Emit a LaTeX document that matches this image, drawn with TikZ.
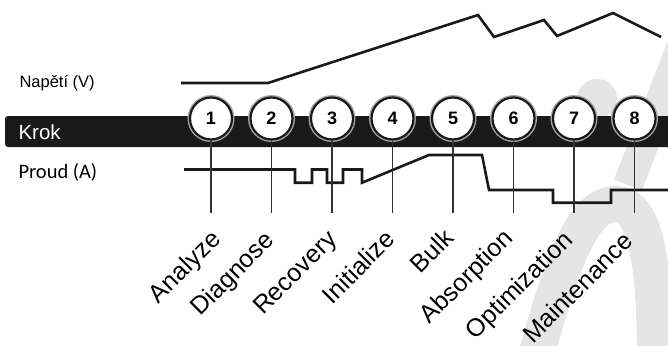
\documentclass[tikz,border=0pt]{standalone}
\usepackage{fontspec}
\setmainfont{Liberation Sans}
\newfontfamily\calibri{Carlito}
\usetikzlibrary{positioning}

\tikzset{
  wm/.style={black!10},
  signal/.style={line width=2.6pt, black!90, line join=miter},
  stem/.style={line width=1.6pt, black!80},
  stepnum/.style={circle, draw=black!90, line width=2.2pt, fill=white, minimum size=42pt,
    inner sep=0pt, font=\fontsize{18}{18}\selectfont\bfseries},
  phase/.style={rotate=45, anchor=base east, inner sep=0pt, font=\fontsize{25}{25}\selectfont}
}

\begin{document}
\begin{tikzpicture}[x=1pt, y=-1pt]
        \useasboundingbox (0,0) rectangle (668,345);

        % watermark behind everything
        \fill[wm] (597,99) circle (20);
        \draw[wm, line width=30] (690,25) -- (628,185);
        \draw[wm, line width=36] (535,360) .. controls (565,250) and (585,205) .. (615,204) .. controls (645,203) and (655,260) .. (655,360);

        % labels on the left
        \node[anchor=west, font=\fontsize{16.5}{16.5}\selectfont] (volt) at (16,83) {Napětí (V)};
        \fill[black!90, rounded corners=3] (5,116) rectangle (680,147);
        \node[anchor=west, text=white, font=\fontsize{20.5}{20.5}\selectfont] (krok) at (15,132) {Krok};
        \node[anchor=west, font=\calibri\fontsize{20.5}{20.5}\selectfont] (proud) at (15,172) {Proud (A)};

        % voltage
        \draw[signal] (181,83) -- (268,83) -- (478,15) -- (494,37) -- (544,20) -- (557,36) -- (613,13) -- (661,37);

        % current
        \draw[signal] (184,169.5) -- (295,169.5) -- (295,182.7) -- (312,182.7) -- (312,169.5) -- (327,169.5)
          -- (327,182.7) -- (343,182.7) -- (343,169.5) -- (362,169.5) -- (362,182.7) -- (429,155) -- (482,155)
          -- (489,190) -- (553,190) -- (553,202.7) -- (611,202.7) -- (611,190) -- (668,190);

        % steps
        \fill[black!35] (211,118.5) circle (23.5);
        \node[stepnum] (s1) at (211,118.5) {1};
        \fill[black!35] (271.5,118.5) circle (23.5);
        \node[stepnum] (s2) at (271.5,118.5) {2};
        \fill[black!35] (332,118.5) circle (23.5);
        \node[stepnum] (s3) at (332,118.5) {3};
        \fill[black!35] (392.5,118.5) circle (23.5);
        \node[stepnum] (s4) at (392.5,118.5) {4};
        \fill[black!35] (453,118.5) circle (23.5);
        \node[stepnum] (s5) at (453,118.5) {5};
        \fill[black!35] (513.5,118.5) circle (23.5);
        \node[stepnum] (s6) at (513.5,118.5) {6};
        \fill[black!35] (574,118.5) circle (23.5);
        \node[stepnum] (s7) at (574,118.5) {7};
        \fill[black!35] (634.5,118.5) circle (23.5);
        \node[stepnum] (s8) at (634.5,118.5) {8};

        \coordinate (e1) at (211,213);
        \coordinate (e2) at (271.5,213);
        \coordinate (e3) at (332,213);
        \coordinate (e4) at (392.5,213);
        \coordinate (e5) at (453,213);
        \coordinate (e6) at (513.5,213);
        \coordinate (e7) at (574,213);
        \coordinate (e8) at (634.5,213);

        \draw[stem] (s1) -- (e1);
        \draw[stem] (s2) -- (e2);
        \draw[stem] (s3) -- (e3);
        \draw[stem] (s4) -- (e4);
        \draw[stem] (s5) -- (e5);
        \draw[stem] (s6) -- (e6);
        \draw[stem] (s7) -- (e7);
        \draw[stem] (s8) -- (e8);

        % phase names
        \node[phase] (l1) at ([shift={(11,28)}]e1) {Analyze};
        \node[phase] (l2) at ([shift={(4,29)}]e2) {Diagnose};
        \node[phase] (l3) at ([shift={(6,28)}]e3) {Recovery};
        \node[phase] (l4) at ([shift={(4,28)}]e4) {Initialize};
        \node[phase] (l5) at ([shift={(2,27)}]e5) {Bulk};
        \node[phase] (l6) at ([shift={(1,27)}]e6) {Absorption};
        \node[phase] (l7) at ([shift={(0,29)}]e7) {Optimization};
        \node[phase] (l8) at ([shift={(0,30)}]e8) {Maintenance};
      \end{tikzpicture}
\end{document}
